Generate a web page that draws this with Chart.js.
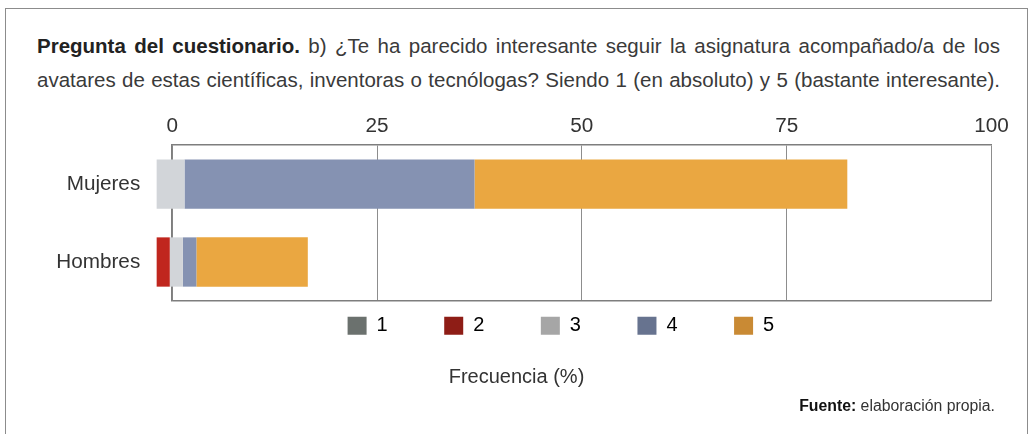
<!DOCTYPE html>
<html>
<head>
<meta charset="utf-8">
<script src="https://cdn.jsdelivr.net/npm/chart.js@4.4.1/dist/chart.umd.min.js"></script>
<style>
  html, body { margin: 0; padding: 0; background: #fff; }
  body { width: 1029px; height: 434px; position: relative; overflow: hidden; }
  .frame { position: absolute; left: 5px; top: 8px; width: 1023px; height: 500px;
           box-sizing: border-box; border: 1.5px solid #8c8c8c; }
  .question { position: absolute; left: 37px; top: 29px; width: 963px;
              font: 20.5px/34px "Liberation Sans", Arial, sans-serif;
              color: #3a3a3a; text-align: justify; text-align-last: justify; }
  .question b { color: #222; }
  .source { position: absolute; right: 34px; top: 397px;
            font: 15.8px/18px "Liberation Sans", Arial, sans-serif; color: #333; white-space: nowrap; }
  .source b { color: #111; }
  .wrap { position: absolute; left: 0; top: 100px; width: 1029px; height: 300px; }
</style>
</head>
<body>
<div class="frame"></div>
<div class="question"><b>Pregunta del cuestionario.</b> b) ¿Te ha parecido interesante seguir la asignatura acompañado/a de los<br>avatares de estas científicas, inventoras o tecnólogas? Siendo 1 (en absoluto) y 5 (bastante interesante).</div>
<div class="wrap"><canvas id="chart"></canvas></div>
<div class="source"><b>Fuente:</b> elaboración propia.</div>
<script>
const categories = ['Mujeres', 'Hombres'];
const answers = ['1', '2', '3', '4', '5'];
const mujeres = [0, 0, 3.4, 35.4, 45.5];
const hombres = [0, 1.6, 1.6, 1.65, 13.6];
const xTicks = [0, 25, 50, 75, 100];

// in the source figure every bar begins slightly left of the 0 line
const barStart = -1.9;

const barColors = ['#6e7370', '#c0261e', '#d2d5d9', '#8592b2', '#eaa741'];
const legendColors = ['#6b716e', '#8e1d16', '#a6a6a6', '#67738f', '#c98a34'];

const sans = '"Liberation Sans", Arial, sans-serif';
const boxLine = '#7e7e7e';

// floating segments, laid end to end
const rows = [mujeres, hombres];
const datasets = answers.map((a, i) => ({
  label: a,
  data: rows.map(r => {
    if (!r[i]) return null;
    const s = barStart + r.slice(0, i).reduce((p, v) => p + v, 0);
    return [s, s + r[i]];
  }),
  backgroundColor: barColors[i],
  borderWidth: 0,
  grouped: false,
  categoryPercentage: 1,
  barPercentage: 0.632,
  clip: false
}));

// legend sits off-centre and close to the plot in the original
const nudge = {
  id: 'nudge',
  afterLayout(chart) {
    chart.legend.left += 53;
    chart.legend.right += 53;
    chart.legend.top -= 41.8;
    chart.titleBlock.left += 8.6;
    chart.titleBlock.right += 8.6;
  }
};

new Chart(document.getElementById('chart'), {
  type: 'bar',
  data: { labels: categories, datasets },
  plugins: [nudge],
  options: {
    indexAxis: 'y',
    responsive: true,
    maintainAspectRatio: false,
    animation: false,
    layout: { padding: { left: 24.3, right: 37.5, top: 8.2, bottom: 0 } },
    scales: {
      x: {
        position: 'top',
        min: 0,
        max: 100,
        afterBuildTicks: s => { s.ticks = xTicks.map(v => ({ value: v })); },
        ticks: { padding: 6, color: '#333', font: { family: sans, size: 20.7 } },
        grid: { color: '#8d8d8d', lineWidth: 1, drawTicks: false },
        border: { color: boxLine, width: 1.5 }
      },
      y: {
        ticks: { padding: 32, color: '#333', font: { family: sans, size: 20.7 } },
        grid: { color: c => c.tick ? 'transparent' : boxLine, lineWidth: 1.5, drawTicks: false },
        border: { color: boxLine, width: 1.5 }
      }
    },
    plugins: {
      legend: {
        position: 'bottom',
        maxHeight: 40,
        labels: {
          boxWidth: 19,
          boxHeight: 18,
          padding: 56.5,
          color: '#333',
          font: { family: sans, size: 20 },
          generateLabels: () => answers.map((a, i) => ({
            text: a, fillStyle: legendColors[i], strokeStyle: legendColors[i],
            lineWidth: 0, hidden: false, datasetIndex: i
          }))
        }
      },
      title: {
        display: true,
        position: 'bottom',
        text: 'Frecuencia (%)',
        color: '#333',
        font: { family: sans, size: 20, weight: 'normal' },
        padding: { top: 24, bottom: 11 }
      },
      tooltip: { enabled: false }
    }
  }
});
</script>
</body>
</html>
